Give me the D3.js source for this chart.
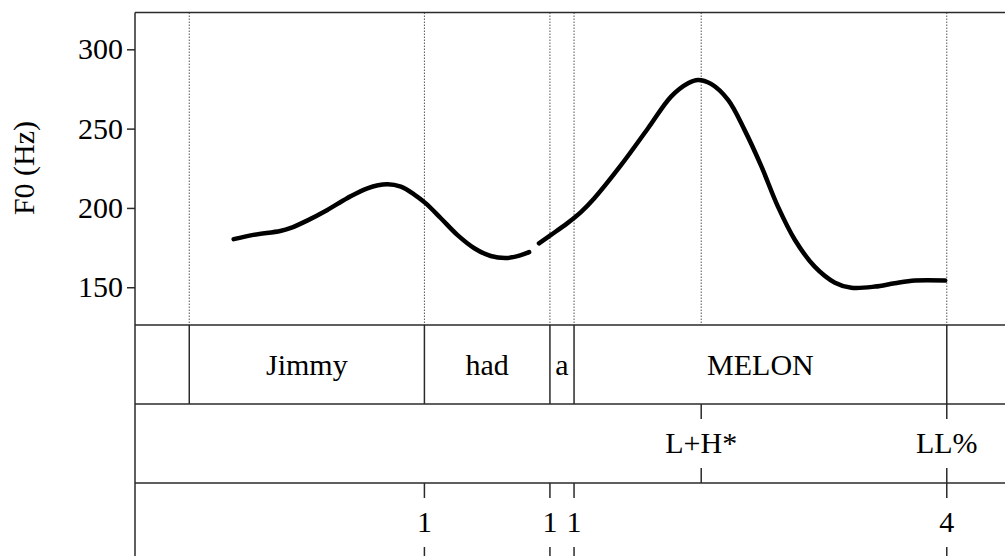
<!DOCTYPE html>
<html>
<head>
<meta charset="utf-8">
<script src="https://cdn.jsdelivr.net/npm/d3@7"></script>
<style>
  body { margin: 0; background: #fff; }
  text { font-family: "Liberation Serif", "Times New Roman", serif; fill: #000; }
</style>
</head>
<body>
<div id="chart"></div>
<script>
// ── Data ───────────────────────────────────────────────────────────────
// pitch track (time in s, F0 in Hz), two voiced stretches
const seg1Time = [0.180, 0.216, 0.265, 0.283, 0.314, 0.351, 0.387, 0.424, 0.460, 0.485,
  0.509, 0.530, 0.558, 0.588, 0.619, 0.649, 0.680, 0.704, 0.719];
const seg1Hz = [180.3, 183.0, 185.5, 187.2, 192.0, 198.7, 206.1, 212.4, 214.9, 213.4,
  208.6, 203.0, 193.5, 183.0, 174.6, 169.7, 168.5, 170.2, 172.1];
const seg2Time = [0.737, 0.759, 0.789, 0.814, 0.838, 0.887, 0.936, 0.978, 1.009, 1.027,
  1.051, 1.082, 1.112, 1.143, 1.173, 1.204, 1.240, 1.277, 1.307, 1.350, 1.386, 1.423, 1.478];
const seg2Hz = [177.7, 183.0, 190.4, 197.5, 206.1, 227.1, 250.2, 270.2, 278.6, 280.7,
  278.2, 268.1, 249.2, 226.0, 200.8, 179.8, 163.0, 152.9, 149.7, 150.4, 152.5, 154.2, 154.2];

// words tier: boundaries and labels of the intervals between them
const wordBounds = [0.099, 0.528, 0.757, 0.801, 1.481];
const wordLabels = ["Jimmy", "had", "a", "MELON"];

// tones tier (points)
const toneTimes = [1.033, 1.481];
const toneLabels = ["L+H*", "LL%"];

// break index tier (points)
const breakTimes = [0.528, 0.757, 0.801, 1.481];
const breakLabels = ["1", "1", "1", "4"];

const yTicks = [150, 200, 250, 300];
const yLabel = "F0 (Hz)";

// ── Layout ─────────────────────────────────────────────────────────────
const W = 1005, H = 556;
const plotLeft = 135, plotRight = 1012;
const plotTop = 12.5, pitchBottom = 325;
const tierH = 79;
const lineCol = "#2a2a2a";

const svg = d3.select("#chart").append("svg")
  .attr("width", W).attr("height", H);

const x = d3.scaleLinear().domain([0, 1.6]).range([plotLeft, plotRight]);
const y = d3.scaleLinear().domain([126.2, 323.2]).range([pitchBottom, plotTop]);

// ── Dotted guides in pitch panel ───────────────────────────────────────
const guides = Array.from(new Set([...wordBounds, ...toneTimes]));
svg.append("g").selectAll("line").data(guides).join("line")
  .attr("x1", d => x(d)).attr("x2", d => x(d))
  .attr("y1", plotTop).attr("y2", pitchBottom)
  .attr("stroke", "#555").attr("stroke-width", 1)
  .attr("stroke-dasharray", "1.5,1.5");

// ── Pitch curve ────────────────────────────────────────────────────────
const line = d3.line()
  .x(d => x(d[0])).y(d => y(d[1]))
  .curve(d3.curveCatmullRom.alpha(0.5));

[[seg1Time, seg1Hz], [seg2Time, seg2Hz]].forEach(([t, f]) => {
  svg.append("path")
    .datum(t.map((v, i) => [v, f[i]]))
    .attr("d", line)
    .attr("fill", "none")
    .attr("stroke", "#000")
    .attr("stroke-width", 4.5)
    .attr("stroke-linecap", "round");
});

// ── Y axis ─────────────────────────────────────────────────────────────
const yAxis = svg.append("g")
  .attr("transform", `translate(${plotLeft},0)`)
  .call(d3.axisLeft(y).tickValues(yTicks).tickSize(8).tickPadding(4));
yAxis.select(".domain").remove();
yAxis.selectAll(".tick line").attr("stroke", lineCol).attr("stroke-width", 1.5);
yAxis.selectAll(".tick text")
  .style("font-family", "'Liberation Serif', serif")
  .style("font-size", "30px").attr("fill", "#000");

svg.append("text")
  .attr("transform", `translate(34,168) rotate(-90)`)
  .attr("text-anchor", "middle")
  .style("font-size", "30px")
  .text(yLabel);

// ── Frame and tier lines ───────────────────────────────────────────────
const frame = svg.append("g").attr("stroke", lineCol).attr("stroke-width", 1.5);
frame.append("line").attr("x1", plotLeft).attr("x2", plotLeft).attr("y1", plotTop).attr("y2", H + 10);
[plotTop, pitchBottom, pitchBottom + tierH, pitchBottom + 2 * tierH, pitchBottom + 3 * tierH]
  .forEach(v => frame.append("line")
    .attr("x1", plotLeft).attr("x2", W + 10).attr("y1", v).attr("y2", v));

// ── Words tier ─────────────────────────────────────────────────────────
const t1 = pitchBottom;
svg.append("g").selectAll("line").data(wordBounds).join("line")
  .attr("x1", d => x(d)).attr("x2", d => x(d))
  .attr("y1", t1).attr("y2", t1 + tierH)
  .attr("stroke", lineCol).attr("stroke-width", 1.5);

svg.append("g").selectAll("text").data(wordLabels).join("text")
  .attr("x", (d, i) => (x(wordBounds[i]) + x(wordBounds[i + 1])) / 2)
  .attr("y", t1 + 50)
  .attr("text-anchor", "middle")
  .style("font-size", "30px")
  .text(d => d);

// ── Point tiers ────────────────────────────────────────────────────────
function pointTier(tTop, times, labels) {
  const g = svg.append("g");
  g.selectAll("line.top").data(times).join("line")
    .attr("class", "top")
    .attr("x1", d => x(d)).attr("x2", d => x(d))
    .attr("y1", tTop).attr("y2", tTop + 15)
    .attr("stroke", lineCol).attr("stroke-width", 1.5);
  g.selectAll("line.bot").data(times).join("line")
    .attr("class", "bot")
    .attr("x1", d => x(d)).attr("x2", d => x(d))
    .attr("y1", tTop + tierH - 15).attr("y2", tTop + tierH)
    .attr("stroke", lineCol).attr("stroke-width", 1.5);
  g.selectAll("text").data(labels).join("text")
    .attr("x", (d, i) => x(times[i]))
    .attr("y", tTop + 49)
    .attr("text-anchor", "middle")
    .style("font-size", "30px")
    .text(d => d);
}

pointTier(pitchBottom + tierH, toneTimes, toneLabels);
pointTier(pitchBottom + 2 * tierH, breakTimes, breakLabels);
</script>
</body>
</html>
